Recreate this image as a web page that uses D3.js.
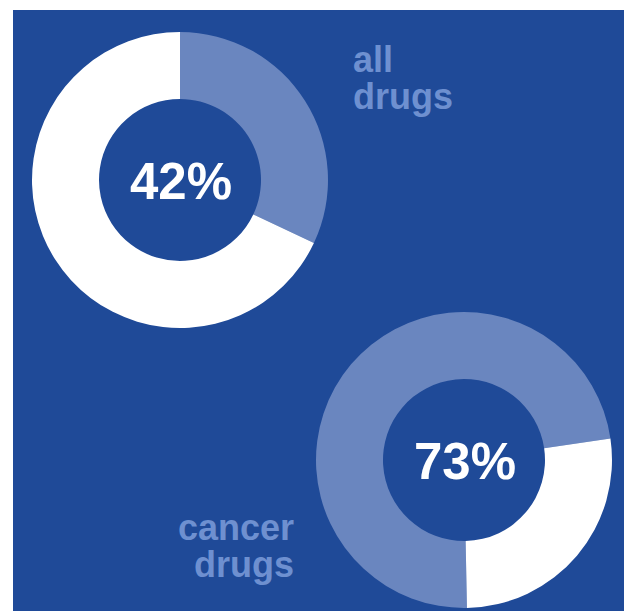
<!DOCTYPE html>
<html>
<head>
<meta charset="utf-8">
<script src="https://cdn.jsdelivr.net/npm/d3@7"></script>
<style>
  body { margin: 0; background: #fff; }
  svg { display: block; }
</style>
</head>
<body>
<svg></svg>
<script>
// data
const groups = ["all drugs", "cancer drugs"];
const centerLabels = ["42%", "73%"];
const highlighted = [32, 73];   // size of the light slice, percent
const rest = [68, 27];          // size of the white slice, percent

let width = 630;
let height = 612;

let svg = d3.select("svg")
    .attr("width", width)
    .attr("height", height);

const bg = "#1f4a98";
const light = "#6a86bf";
const labelColor = "#6e90d0";

svg.append("rect")
    .attr("x", 13)
    .attr("y", 10)
    .attr("width", 611)
    .attr("height", 601)
    .attr("fill", bg);

const outer = 148;
const inner = 81;

// where each donut sits and where its pie starts
const layout = [
    { cx: 180, cy: 180, start: 0 },
    { cx: 464, cy: 460, start: Math.PI - 0.02 }
];

const arc = d3.arc().innerRadius(inner).outerRadius(outer);

const drawDonut = (i) => {
    const pie = d3.pie()
        .sort(null)
        .value((d) => d.value)
        .startAngle(layout[i].start)
        .endAngle(layout[i].start + 2 * Math.PI);

    const slices = [
        { key: "hi", value: highlighted[i], color: light },
        { key: "rest", value: rest[i], color: "#ffffff" }
    ];

    const g = svg.append("g")
        .attr("transform", "translate(" + layout[i].cx + "," + layout[i].cy + ")");

    g.selectAll("path")
        .data(pie(slices))
        .enter()
        .append("path")
        .attr("d", arc)
        .attr("fill", (d) => d.data.color);

    g.append("text")
        .attr("x", 1)
        .attr("y", 19)
        .attr("text-anchor", "middle")
        .attr("font-family", "Liberation Sans, Arial, sans-serif")
        .attr("font-weight", "bold")
        .attr("font-size", 51)
        .attr("fill", "#ffffff")
        .text(centerLabels[i]);
};

drawDonut(0);
drawDonut(1);

// group names
const nameText = (words, x, y, anchor) => {
    const t = svg.append("text")
        .attr("text-anchor", anchor)
        .attr("font-family", "Liberation Sans, Arial, sans-serif")
        .attr("font-weight", "bold")
        .attr("font-size", 36)
        .attr("fill", labelColor);
    words.forEach((w, j) => {
        t.append("tspan")
            .attr("x", x)
            .attr("y", y + j * 37)
            .text(w);
    });
};

nameText(groups[0].split(" "), 353, 72, "start");
nameText(groups[1].split(" "), 294, 540, "end");
</script>
</body>
</html>
